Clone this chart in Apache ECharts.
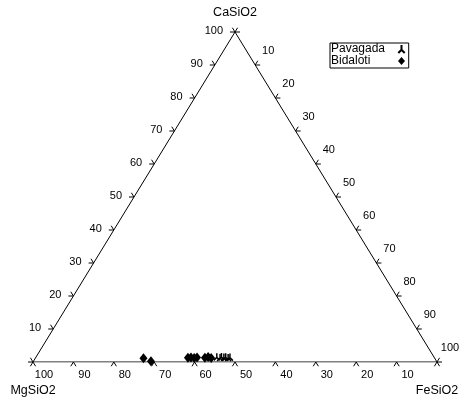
<!DOCTYPE html>
<html><head><meta charset="utf-8">
<script src="https://cdn.jsdelivr.net/npm/echarts@6/dist/echarts.min.js"></script>
<style>html,body{margin:0;padding:0;background:#fff}#c{width:460px;height:400px}</style>
</head><body><div id="c"></div>
<script>
// Vertex (component) names: top, bottom-left, bottom-right
const vertexNames = ['CaSiO2', 'MgSiO2', 'FeSiO2'];
// Tick values on every side (0 ticks drawn without label)
const tickValues = [0, 10, 20, 30, 40, 50, 60, 70, 80, 90, 100];
const tickLabels = ['', '10', '20', '30', '40', '50', '60', '70', '80', '90', '100'];
const seriesNames = ['Pavagada', 'Bidaloti'];
// Pavagada samples (wt% CaSiO2, MgSiO2; FeSiO2 = remainder)
const pavagadaCa = [1.6, 1.4, 1.7, 1.5, 1.6, 1.4, 1.5];
const pavagadaMg = [53.7, 53.0, 52.5, 52.0, 51.5, 51.0, 50.5];
// Bidaloti samples
const bidalotiCa = [1.1, 0.2, 1.3, 1.4, 1.2, 1.4, 1.3, 1.5, 1.2];
const bidalotiMg = [72.1, 70.7, 61.0, 60.2, 59.5, 58.7, 56.8, 55.9, 55.3];

// ternary (Ca, Mg, Fe) -> cartesian data space (x: 0..100, y: 0..100)
function toXY(ca, mg) { const fe = 100 - ca - mg; return [fe + ca / 2, ca]; }

const pavData = pavagadaCa.map((c, i) => toXY(c, pavagadaMg[i]));
const bidData = bidalotiCa.map((c, i) => toXY(c, bidalotiMg[i]));
const frame = [toXY(0, 100), toXY(100, 0), toXY(0, 0), toXY(0, 100)];

const tickData = [];
for (let s = 0; s < 3; s++) tickValues.forEach((v, i) => tickData.push([s, v, i]));

const FONT = 'Liberation Sans, Arial, sans-serif';
const triSymbol = 'path://M5,0 L5,6 L1,10 M5,6 L9,10';

function unit(a, b) { const dx = b[0] - a[0], dy = b[1] - a[1]; const l = Math.hypot(dx, dy); return [dx / l, dy / l]; }

function renderTick(params, api) {
  const s = api.value(0), v = api.value(1), idx = api.value(2);
  const BL = api.coord(toXY(0, 100)), T = api.coord(toXY(100, 0)), BR = api.coord(toXY(0, 0));
  const uL = unit(BL, T);   // up-right along left side
  const uR = unit(T, BR);   // down-right along right side
  let p, dirs, lab;
  const L = 5;
  if (s === 0) {        // left side: CaSiO2
    p = api.coord(toXY(v, 100 - v));
    dirs = [[-1, 0], [-uR[0], -uR[1]]];
    lab = { x: p[0] - 12, y: p[1] - 1, align: 'right', verticalAlign: 'middle' };
  } else if (s === 1) { // bottom: MgSiO2
    p = api.coord(toXY(0, v));
    dirs = [[uR[0], uR[1]], [-uL[0], -uL[1]]];
    lab = { x: p[0] + 11, y: p[1] + 13, align: 'center', verticalAlign: 'middle' };
  } else {              // right side: FeSiO2
    p = api.coord(toXY(100 - v, 0));
    dirs = [[uL[0], uL[1]], [1, 0]];
    lab = { x: p[0] + 13, y: p[1] - 14, align: 'center', verticalAlign: 'middle' };
  }
  const children = dirs.map(d => ({
    type: 'line',
    shape: { x1: p[0], y1: p[1], x2: p[0] + d[0] * L, y2: p[1] + d[1] * L },
    style: { stroke: '#000', lineWidth: 1 }
  }));
  children.push({
    type: 'text',
    style: { x: lab.x, y: lab.y, text: tickLabels[idx], align: lab.align, verticalAlign: lab.verticalAlign,
      fill: '#000', font: '11px ' + FONT }
  });
  return { type: 'group', children };
}

function renderVertex(params, api) {
  const i = api.value(0);
  const pts = [toXY(100, 0), toXY(0, 100), toXY(0, 0)];
  const p = api.coord(pts[i]);
  const dy = i === 0 ? -19 : 29;
  return { type: 'text', style: { x: p[0], y: p[1] + dy, text: vertexNames[i], align: 'center',
    verticalAlign: 'middle', fill: '#000', font: '12.5px ' + FONT } };
}

const chart = echarts.init(document.getElementById('c'), null, { renderer: 'canvas' });
chart.setOption({
  animation: false,
  backgroundColor: '#fff',
  grid: { left: 33, right: 23, top: 32, bottom: 38 },
  xAxis: { type: 'value', min: 0, max: 100, show: false },
  yAxis: { type: 'value', min: 0, max: 100, show: false },
  legend: {
    data: seriesNames,
    orient: 'vertical', left: 330, top: 43, align: 'right',
    itemWidth: 7, itemHeight: 8, itemGap: 0,
    padding: [0, 3, 1, 1],
    borderColor: '#000', borderWidth: 1, borderRadius: 0,
    formatter: name => '{n|' + name + '}',
    textStyle: { fontSize: 12, fontFamily: FONT, color: '#000', lineHeight: 11,
      rich: { n: { width: 62, align: 'left', fontSize: 12, fontFamily: FONT, lineHeight: 11 } } }
  },
  series: [
    { type: 'line', data: frame, symbol: 'none', silent: true, lineStyle: { color: '#000', width: 1 }, z: 1 },
    { type: 'custom', data: tickData, renderItem: renderTick, silent: true, z: 2 },
    { type: 'custom', data: [[0], [1], [2]], renderItem: renderVertex, silent: true, z: 2 },
    { name: seriesNames[0], type: 'scatter', data: pavData, symbol: triSymbol, symbolSize: [6, 7],
      itemStyle: { color: 'rgba(0,0,0,0)', borderColor: '#000', borderWidth: 1.6, opacity: 1 }, z: 4 },
    { name: seriesNames[1], type: 'scatter', data: bidData, symbol: 'diamond', symbolSize: [8, 10],
      itemStyle: { color: '#000', opacity: 1 }, z: 3 }
  ]
});
</script></body></html>
